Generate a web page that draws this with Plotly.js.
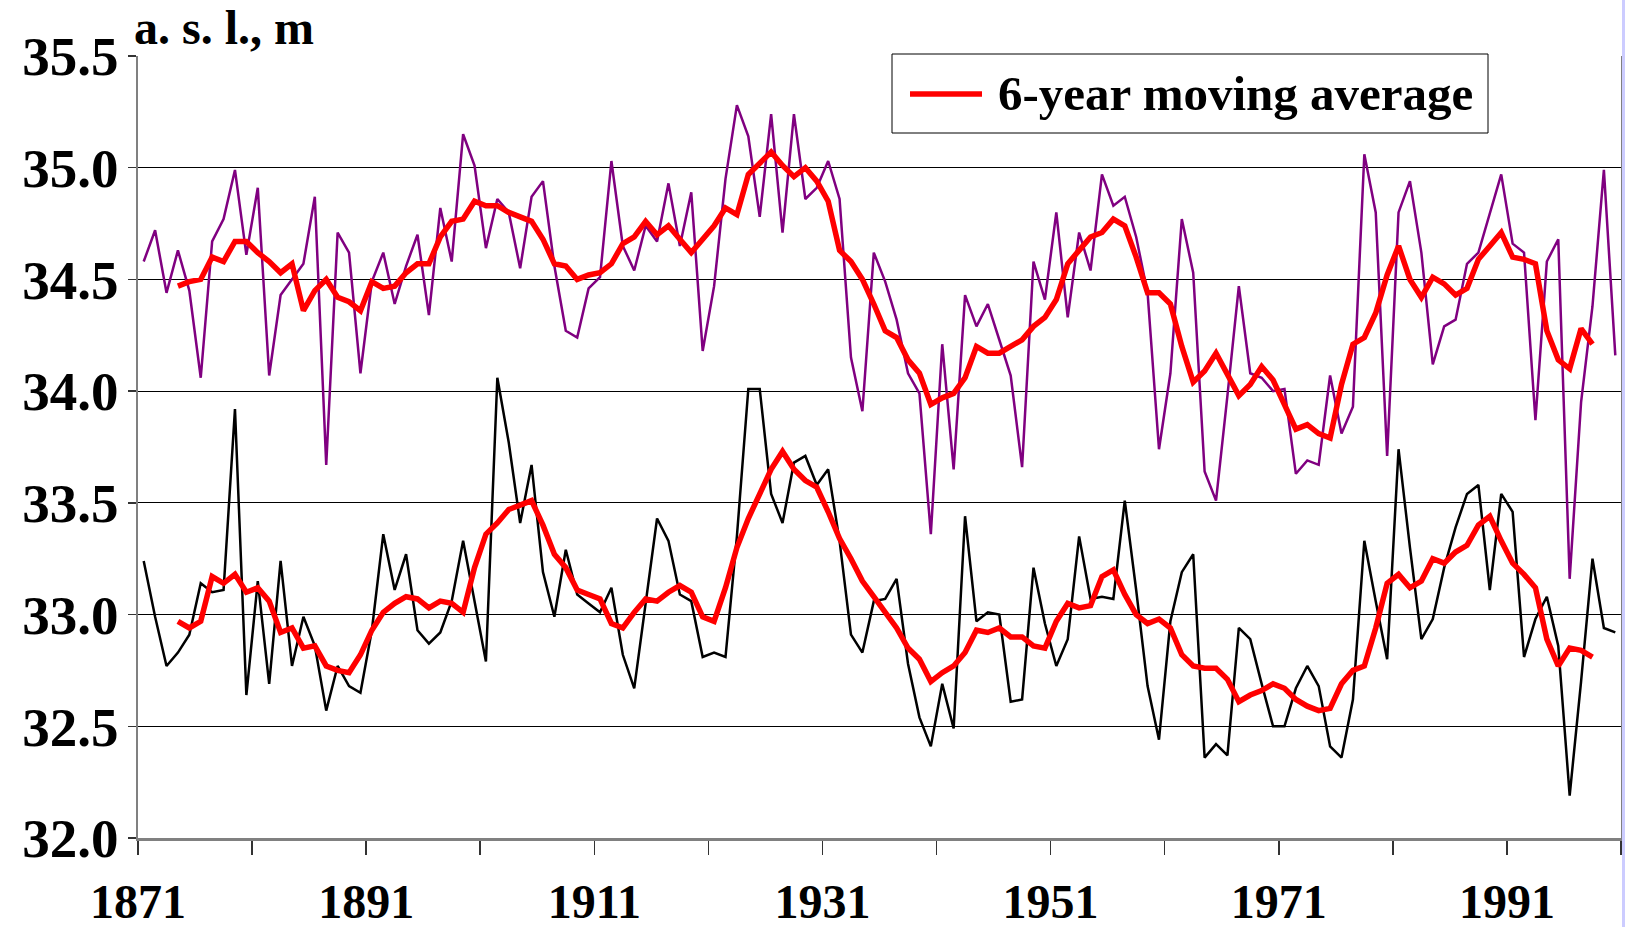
<!DOCTYPE html>
<html>
<head>
<meta charset="utf-8">
<script src="https://cdn.plot.ly/plotly-3.0.1.min.js"></script>
<style>html,body{margin:0;padding:0;background:#fff;}#chart{width:1625px;height:927px;}</style>
</head>
<body>
<div id="chart"></div>
<script>
// ---- data ----
var startYear = 1871;
var yearLabels = ['1871', '1891', '1911', '1931', '1951', '1971', '1991'];
var yTicks = [32.0, 32.5, 33.0, 33.5, 34.0, 34.5, 35.0, 35.5];

var upperLevel = [
  34.58, 34.72, 34.44, 34.63, 34.45, 34.06, 34.67, 34.77, 34.99, 34.61,
  34.91, 34.07, 34.43, 34.50, 34.57, 34.87, 33.67, 34.71, 34.62, 34.08,
  34.49, 34.62, 34.39, 34.56, 34.70, 34.34, 34.82, 34.58, 35.15, 35.01,
  34.64, 34.86, 34.80, 34.55, 34.87, 34.94, 34.56, 34.27, 34.24, 34.46,
  34.51, 35.03, 34.65, 34.54, 34.74, 34.67, 34.93, 34.65, 34.89, 34.18,
  34.47, 34.95, 35.28, 35.14, 34.78, 35.24, 34.71, 35.24, 34.86, 34.91,
  35.03, 34.86, 34.15, 33.91, 34.62, 34.49, 34.32, 34.08, 33.99, 33.36,
  34.21, 33.65, 34.43, 34.29, 34.39, 34.23, 34.07, 33.66, 34.58, 34.41,
  34.80, 34.33, 34.71, 34.54, 34.97, 34.83, 34.87, 34.69, 34.44, 33.74,
  34.08, 34.77, 34.53, 33.64, 33.51, 33.98, 34.47, 34.08, 34.06, 34.00,
  34.01, 33.63, 33.69, 33.67, 34.07, 33.81, 33.93, 35.06, 34.80, 33.71,
  34.80, 34.94, 34.62, 34.12, 34.29, 34.32, 34.57, 34.62, 34.79, 34.97,
  34.66, 34.62, 33.87, 34.58, 34.68, 33.16, 33.95, 34.38, 34.99, 34.16
];

var upperAvg = [
  null, null, null,
  34.47, 34.49, 34.50, 34.60, 34.58, 34.67, 34.67,
  34.62, 34.58, 34.53, 34.57, 34.36, 34.45, 34.50, 34.42, 34.40, 34.36,
  34.49, 34.46, 34.47, 34.53, 34.57, 34.57, 34.69, 34.76, 34.77, 34.85,
  34.83, 34.83, 34.80, 34.78, 34.76, 34.68, 34.57, 34.56, 34.50, 34.52,
  34.53, 34.57, 34.66, 34.69, 34.76, 34.70, 34.74, 34.68, 34.62, 34.68,
  34.74, 34.82, 34.79, 34.97, 35.02, 35.07, 35.01, 34.96, 35.00, 34.94,
  34.85, 34.63, 34.58, 34.50, 34.39, 34.27, 34.24, 34.14, 34.08, 33.94,
  33.97, 33.99, 34.06, 34.20, 34.17, 34.17, 34.20, 34.23, 34.29, 34.33,
  34.41, 34.57, 34.63, 34.69, 34.71, 34.77, 34.74, 34.60, 34.44, 34.44,
  34.39, 34.20, 34.04, 34.09, 34.17, 34.07, 33.98, 34.03, 34.11, 34.05,
  33.94, 33.83, 33.85, 33.81, 33.79, 34.03, 34.21, 34.24, 34.35, 34.52,
  34.65, 34.50, 34.42, 34.51, 34.48, 34.43, 34.46, 34.59, 34.65, 34.71,
  34.60, 34.59, 34.57, 34.27, 34.14, 34.10, 34.28, 34.21,
  null, null
];

var lowerLevel = [
  33.24, 32.99, 32.77, 32.83, 32.91, 33.14, 33.10, 33.11, 33.92, 32.64,
  33.15, 32.69, 33.24, 32.77, 32.99, 32.86, 32.57, 32.77, 32.68, 32.65,
  32.93, 33.36, 33.11, 33.27, 32.93, 32.87, 32.92, 33.06, 33.33, 33.06,
  32.79, 34.06, 33.77, 33.41, 33.67, 33.19, 32.99, 33.29, 33.09, 33.05,
  33.01, 33.12, 32.82, 32.67, 33.05, 33.43, 33.33, 33.09, 33.06, 32.81,
  32.83, 32.81, 33.35, 34.01, 34.01, 33.54, 33.41, 33.68, 33.71, 33.58,
  33.65, 33.33, 32.91, 32.83, 33.06, 33.07, 33.16, 32.78, 32.54, 32.41,
  32.69, 32.49, 33.44, 32.97, 33.01, 33.00, 32.61, 32.62, 33.21, 32.96,
  32.77, 32.89, 33.35, 33.07, 33.08, 33.07, 33.51, 33.11, 32.68, 32.44,
  32.97, 33.19, 33.27, 32.36, 32.42, 32.37, 32.94, 32.89, 32.69, 32.50,
  32.50, 32.67, 32.77, 32.68, 32.41, 32.36, 32.62, 33.33, 33.06, 32.80,
  33.74, 33.30, 32.89, 32.98, 33.21, 33.39, 33.54, 33.58, 33.11, 33.54,
  33.46, 32.81, 32.98, 33.08, 32.86, 32.19, 32.70, 33.25, 32.94, 32.92
];

var lowerAvg = [
  null, null, null,
  32.97, 32.94, 32.97, 33.17, 33.14, 33.18, 33.10,
  33.12, 33.06, 32.92, 32.94, 32.85, 32.86, 32.77, 32.75, 32.74, 32.82,
  32.93, 33.01, 33.05, 33.08, 33.07, 33.03, 33.06, 33.05, 33.01, 33.21,
  33.36, 33.41, 33.47, 33.49, 33.51, 33.40, 33.27, 33.21, 33.11, 33.09,
  33.07, 32.96, 32.94, 33.01, 33.07, 33.06, 33.10, 33.13, 33.10, 32.99,
  32.97, 33.12, 33.30, 33.43, 33.54, 33.65, 33.73, 33.65, 33.60, 33.57,
  33.46, 33.34, 33.25, 33.15, 33.08, 33.01, 32.94, 32.85, 32.80, 32.70,
  32.74, 32.77, 32.83, 32.93, 32.92, 32.94, 32.90, 32.90, 32.86, 32.85,
  32.97, 33.05, 33.03, 33.04, 33.17, 33.20, 33.09, 33.00, 32.96, 32.98,
  32.94, 32.82, 32.77, 32.76, 32.76, 32.71, 32.61, 32.64, 32.66, 32.69,
  32.67, 32.62, 32.59, 32.57, 32.58, 32.69, 32.75, 32.77, 32.94, 33.14,
  33.18, 33.12, 33.15, 33.25, 33.23, 33.28, 33.31, 33.40, 33.44, 33.33,
  33.23, 33.18, 33.12, 32.89, 32.77, 32.85, 32.84, 32.81,
  null, null
];

var legendText = '6-year moving average';
var titleText = 'a. s. l., m';

// ---- build ----
var years = upperLevel.map(function (v, i) { return startYear + i; });

// category boundaries (tick marks every 10 years, labels every 20)
var tickVals = [], tickText = [];
for (var k = 0; k <= 13; k++) {
  tickVals.push(startYear - 0.5 + 10 * k);
  tickText.push(k % 2 === 0 && yearLabels[k / 2] ? yearLabels[k / 2] : '');
}

var FONT = 'Liberation Serif, Times New Roman, serif';
var W = 1625, H = 927;
var L = 138, R = 4, T = 56, B = 89;
var pw = W - L - R, ph = H - T - B;
function px(x) { return (x - L) / pw; }
function py(y) { return (H - B - y) / ph; }

var traces = [
  { x: years, y: upperLevel, type: 'scatter', mode: 'lines', line: { color: '#800080', width: 2.5 }, showlegend: false, hoverinfo: 'x+y' },
  { x: years, y: lowerLevel, type: 'scatter', mode: 'lines', line: { color: '#000000', width: 2.5 }, showlegend: false, hoverinfo: 'x+y' },
  { x: years, y: upperAvg, type: 'scatter', mode: 'lines', line: { color: '#ff0000', width: 5.5 }, showlegend: false, name: legendText },
  { x: years, y: lowerAvg, type: 'scatter', mode: 'lines', line: { color: '#ff0000', width: 5.5 }, showlegend: false, name: legendText }
];

var layout = {
  width: W, height: H,
  margin: { l: L, r: R, t: T, b: B, pad: 0 },
  paper_bgcolor: '#ffffff', plot_bgcolor: '#ffffff',
  showlegend: false,
  title: {
    text: '<b>' + titleText + '</b>',
    font: { family: FONT, size: 48, color: '#000' },
    xref: 'container', yref: 'container',
    x: 134 / W, xanchor: 'left', y: 1 - 27 / H, yanchor: 'middle'
  },
  xaxis: {
    range: [startYear - 0.5, startYear + years.length - 0.5],
    tickmode: 'array', tickvals: tickVals, ticktext: tickText,
    ticks: 'outside', ticklen: 14, tickwidth: 1.5, tickcolor: '#333',
    showline: true, linecolor: '#808080', linewidth: 2.5,
    showgrid: false, zeroline: false,
    tickfont: { family: FONT, size: 48, color: '#000', weight: 'bold' },
    ticklabelstandoff: 6
  },
  yaxis: {
    range: [32, 35.5],
    tickmode: 'array', tickvals: yTicks, ticktext: yTicks.map(function (v) { return v.toFixed(1); }),
    ticks: 'outside', ticklen: 8, tickwidth: 1.5, tickcolor: '#333',
    showline: true, linecolor: '#808080', linewidth: 2.5, mirror: true,
    showgrid: true, gridcolor: '#000', gridwidth: 1,
    zeroline: false,
    tickfont: { family: FONT, size: 55, color: '#000', weight: 'bold' },
    ticklabelstandoff: -2
  },
  shapes: [
    { type: 'rect', xref: 'paper', yref: 'paper', x0: px(892), x1: px(1488), y0: py(133), y1: py(54),
      line: { color: '#000', width: 1 }, fillcolor: '#fff', layer: 'above' },
    { type: 'line', xref: 'paper', yref: 'paper', x0: px(910), x1: px(982), y0: py(94), y1: py(94),
      line: { color: '#ff0000', width: 5.5 }, layer: 'above' },
    { type: 'rect', xref: 'paper', yref: 'paper', x0: px(1622), x1: px(1626), y0: py(927), y1: py(0),
      line: { width: 0 }, fillcolor: '#ccccff', layer: 'above' }
  ],
  annotations: [
    { xref: 'paper', yref: 'paper', x: px(996), y: py(94), xanchor: 'left', yanchor: 'middle',
      text: '<b>' + legendText + '</b>', showarrow: false,
      font: { family: FONT, size: 49, color: '#000' } }
  ]
};

Plotly.newPlot('chart', traces, layout, { staticPlot: true, displayModeBar: false });
</script>
</body>
</html>
